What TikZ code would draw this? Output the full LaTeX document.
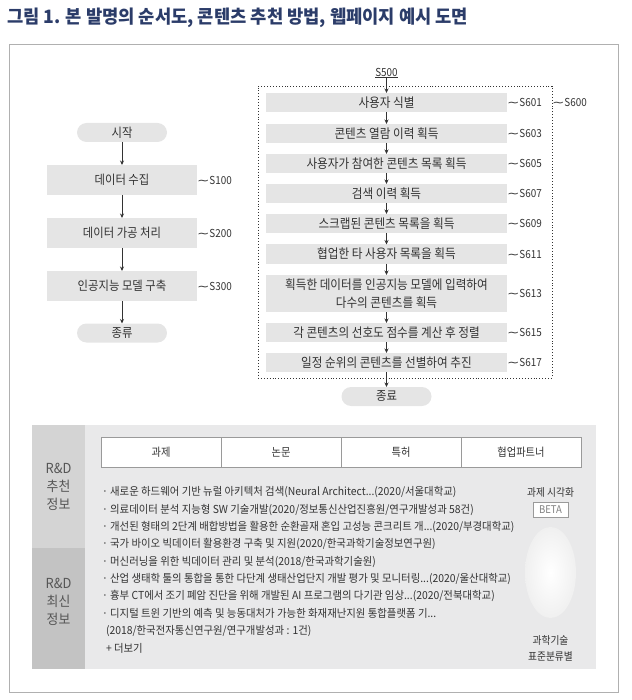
\documentclass[tikz,border=0pt]{standalone}
\usepackage{fontspec}
\setmainfont{Noto Sans CJK KR}
\newfontfamily\kr[FakeStretch=0.9]{Noto Sans CJK KR}
\newfontfamily\kri[FakeStretch=0.945]{Noto Sans CJK KR}
\newfontfamily\krt[FakeStretch=0.93]{Noto Sans CJK KR}
\newfontfamily\ktitle[FakeStretch=0.96]{Noto Sans CJK KR}
\newfontfamily\dv{DejaVu Sans}
\newcommand\wv{\scalebox{1.35}[1]{\dv ∼}}
\usetikzlibrary{arrows.meta}
\definecolor{titlecol}{RGB}{43,60,105}
\definecolor{framecol}{HTML}{B0B0B0}
\definecolor{boxgray}{HTML}{E5E5E5}
\definecolor{txt}{HTML}{333333}
\definecolor{panel}{HTML}{E9E9EA}
\definecolor{colA}{HTML}{D4D4D4}
\definecolor{colB}{HTML}{C3C3C3}
\definecolor{labtxt}{HTML}{555555}
\definecolor{tabborder}{HTML}{9A9A9A}
\definecolor{ellgray}{HTML}{F0F0F0}
\tikzset{
  every node/.style={inner sep=0pt, outer sep=0pt, text=txt},
  lbox/.style={fill=boxgray, minimum width=150, minimum height=30, font=\kr\fontsize{12.6}{14}\selectfont},
  rbox/.style={fill=boxgray, minimum width=241, minimum height=19, align=center, font=\kr\fontsize{12.9}{17.5}\selectfont},
  pill/.style={fill=boxgray, rounded corners=9.5, minimum width=90, minimum height=19, font=\kr\fontsize{12.6}{14}\selectfont},
  slab/.style={anchor=west, font=\kr\fontsize{11}{12}\selectfont},
  arr/.style={draw=txt, line width=0.8, -{Stealth[length=4.5pt,width=4pt]}},
  tabcell/.style={draw=tabborder, fill=white, minimum width=120, minimum height=30, font=\kr\fontsize{11.4}{12}\selectfont},
  item/.style={anchor=west, font=\kri\fontsize{11}{12}\selectfont, text=txt},
  sidelab/.style={align=center, font=\krt\fontsize{13.8}{18}\selectfont, text=labtxt},
  small/.style={align=center, font=\kr\fontsize{10.8}{16}\selectfont, text=txt}
}
\begin{document}
\begin{tikzpicture}[x=1pt,y=-1pt]
\useasboundingbox (0,0) rectangle (631,700);
% title
\node[anchor=west, text=titlecol, font=\ktitle\bfseries\fontsize{18.4}{22}\selectfont] (title) at (7,18) {그림 1. 본 발명의 순서도, 콘텐츠 추천 방법, 웹페이지 예시 도면};
% frame
\draw[framecol, line width=1] (9,45) rectangle (618,692);

% left flowchart
\node[pill] (startL) at (122,132.5) {시작};
\node[lbox] (s100) at (122,180) {데이터 수집};
\node[lbox] (s200) at (122,233) {데이터 가공 처리};
\node[lbox] (s300) at (122,286) {인공지능 모델 구축};
\node[pill] (endL) at (122,333) {종류};
\draw[arr] (startL) -- (s100);
\draw[arr] (s100) -- (s200);
\draw[arr] (s200) -- (s300);
\draw[arr] (s300) -- (endL);
\node[slab] (l100) at (s100.east) {\wv S100};
\node[slab] (l200) at (s200.east) {\wv S200};
\node[slab] (l300) at (s300.east) {\wv S300};

% right flowchart
\node[draw=txt, dotted, line width=0.9, minimum width=294, minimum height=292] (grp) at (405,232) {};
\node[font=\kr\fontsize{11}{12}\selectfont] (s500) at (386.5,73) {\underline{S500}};
\node[rbox] (s601) at (386.5,102.5) {사용자 식별};
\node[rbox] (s603) at (386.5,133.5) {콘텐츠 열람 이력 획득};
\node[rbox] (s605) at (386.5,163.5) {사용자가 참여한 콘텐츠 목록 획득};
\node[rbox] (s607) at (386.5,193.5) {검색 이력 획득};
\node[rbox] (s609) at (386.5,223.5) {스크랩된 콘텐츠 목록을 획득};
\node[rbox] (s611) at (386.5,254) {협업한 타 사용자 목록을 획득};
\node[rbox, minimum height=37] (s613) at (386.5,293.5) {획득한 데이터를 인공지능 모델에 입력하여\\다수의 콘텐츠를 획득};
\node[rbox] (s615) at (386.5,332.5) {각 콘텐츠의 선호도 점수를 계산 후 정렬};
\node[rbox] (s617) at (386.5,362.5) {일정 순위의 콘텐츠를 선별하여 추진};
\node[pill] (endR) at (386.5,396.5) {종료};
\draw[arr] (s500) -- (s601);
\draw[arr] (s601) -- (s603);
\draw[arr] (s603) -- (s605);
\draw[arr] (s605) -- (s607);
\draw[arr] (s607) -- (s609);
\draw[arr] (s609) -- (s611);
\draw[arr] (s611) -- (s613);
\draw[arr] (s613) -- (s615);
\draw[arr] (s615) -- (s617);
\draw[arr] (s617) -- (endR);
\foreach \n in {601,603,605,607,609,611,613,615,617}{
  \node[slab] (l\n) at (s\n.east) {\wv S\n};
}
\node[slab] (l600) at (grp.east |- s601) {\wv S600};

% bottom panel
\fill[panel] (32,425) rectangle (596,669);
\fill[colA] (32,425) rectangle (85,548);
\fill[colB] (32,548) rectangle (85,669);
\node[sidelab] (rec) at (58.5,487) {R\&D\\추천\\정보};
\node[sidelab] (new) at (58.5,602) {R\&D\\최신\\정보};
\node[tabcell] (t1) at (161,452) {과제};
\node[tabcell] (t2) at (281,452) {논문};
\node[tabcell] (t3) at (401,452) {특허};
\node[tabcell] (t4) at (521,452) {협업파트너};
\node[item] (i1) at (102,492.5) {· 새로운 하드웨어 기반 뉴럴 아키텍처 검색(Neural Architect...(2020/서울대학교)};
\node[item] (i2) at (102,509.8) {· 의료데이터 분석 지능형 SW 기술개발(2020/정보통신산업진흥원/연구개발성과 58건)};
\node[item] (i3) at (102,527.1) {· 개선된 형태의 2단계 배합방법을 활용한 순환골재 혼입 고성능 콘크리트 개...(2020/부경대학교)};
\node[item] (i4) at (102,544.4) {· 국가 바이오 빅데이터 활용환경 구축 및 지원(2020/한국과학기술정보연구원)};
\node[item] (i5) at (102,561.7) {· 머신러닝을 위한 빅데이터 관리 및 분석(2018/한국과학기술원)};
\node[item] (i6) at (102,579) {· 산업 생태학 툴의 통합을 통한 다단계 생태산업단지 개발 평가 및 모니터링...(2020/울산대학교)};
\node[item] (i7) at (102,596.3) {· 흉부 CT에서 조기 폐암 진단을 위해 개발된 AI 프로그램의 다기관 임상...(2020/전북대학교)};
\node[item] (i8) at (102,613.6) {· 디지털 트윈 기반의 예측 및 능동대처가 가능한 화재재난지원 통합플랫폼 기...};
\node[item] (i9) at (106,630.9) {(2018/한국전자통신연구원/연구개발성과 : 1건)};
\node[item] (i10) at (106,648.2) {+ 더보기};
\node[small] (vis) at (550.5,492.5) {과제 시각화};
\node[draw=tabborder, fill=white, minimum width=35, minimum height=15, font=\kr\fontsize{10.6}{12}\selectfont, text=gray] (beta) at (550.5,510) {BETA};
\shade[inner color=white, outer color=ellgray] (550.5,572.5) ellipse (25.5 and 45.5);
\node[small] (std) at (550.5,648) {과학기술\\표준분류별};
\end{tikzpicture}
\end{document}
